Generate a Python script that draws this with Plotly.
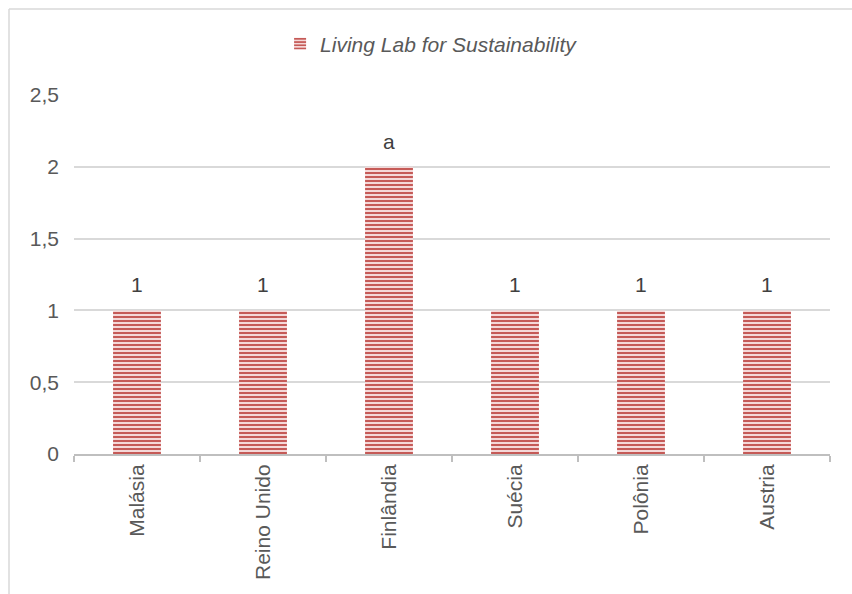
import plotly.graph_objects as go

categories = ["Malásia", "Reino Unido", "Finlândia", "Suécia", "Polônia", "Austria"]
values = [1, 1, 2, 1, 1, 1]
labels = ["1", "1", "a", "1", "1", "1"]
series_name = "<i>Living Lab for Sustainability</i>"
y_ticks = [0, 0.5, 1, 1.5, 2, 2.5]

FONT = "Liberation Sans, Arial, sans-serif"
TXT = "#595959"

fig = go.Figure()
fig.add_trace(go.Bar(
    x=categories, y=values, name=series_name,
    marker=dict(color="#f4d8d8", line=dict(width=0),
                pattern=dict(shape="-", fgcolor="#c55a57", bgcolor="#f4d8d8",
                             size=4, solidity=0.5, fillmode="replace")),
    showlegend=True,
))
for c, v, t in zip(categories, values, labels):
    fig.add_annotation(x=c, y=v, text=t, showarrow=False, yanchor="bottom",
                       yshift=12, font=dict(family=FONT, size=21, color="#404040"))

ml, mr, mt, mb = 74, 22, 95, 140
W, H = 852, 594
pw, ph = W - ml - mr, H - mt - mb
bx = (9 - ml) / pw
by = (H - mb - 9) / ph
fig.add_shape(type="line", xref="paper", yref="paper", x0=bx, x1=(W - ml) / pw + 0.01,
              y0=by, y1=by, line=dict(color="#d9d9d9", width=1.5))
fig.add_shape(type="line", xref="paper", yref="paper", x0=bx, x1=bx,
              y0=by, y1=-(mb + 5) / ph, line=dict(color="#d9d9d9", width=1.5))

fig.update_layout(
    width=W, height=H, margin=dict(l=ml, r=mr, t=mt, b=mb),
    paper_bgcolor="white", plot_bgcolor="white",
    separators=",.",
    bargap=0.62,
    font=dict(family=FONT, size=21, color=TXT),
    legend=dict(orientation="h", x=0.473, xanchor="center", y=(H - mb - 44) / ph,
                yanchor="middle", font=dict(family=FONT, size=21, color=TXT),
                itemwidth=30, bgcolor="rgba(0,0,0,0)"),
    xaxis=dict(tickangle=-90, showline=True, linecolor="#bfbfbf", linewidth=2,
               ticks="outside", tickson="boundaries", ticklen=6, tickcolor="#bfbfbf",
               tickwidth=2, showgrid=False,
               tickfont=dict(family=FONT, size=21, color=TXT)),
    yaxis=dict(range=[0, 2.5], tickvals=y_ticks, showgrid=True, gridcolor="#d9d9d9",
               gridwidth=1.5, zeroline=False, showline=False, ticklabelstandoff=14,
               tickfont=dict(family=FONT, size=21, color=TXT)),
)

fig.write_html("out.html")
